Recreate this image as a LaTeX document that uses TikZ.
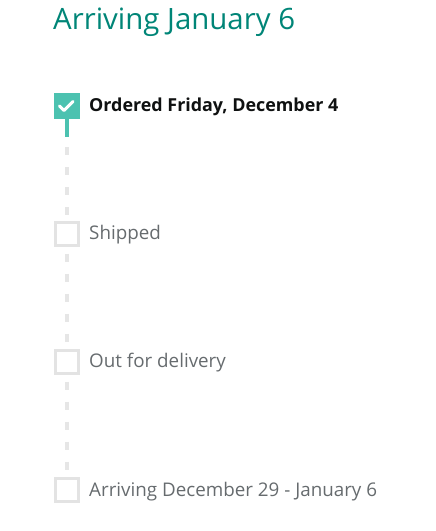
\documentclass[tikz,border=0pt]{standalone}
\usepackage{fontspec}
\setmainfont{Open Sans}
\definecolor{titleteal}{HTML}{008577}
\definecolor{checkteal}{HTML}{4CC2B0}
\definecolor{boxgray}{HTML}{E3E3E3}
\definecolor{dashgray}{HTML}{E6E6E6}
\definecolor{labelgray}{HTML}{666B6E}
\definecolor{labeldark}{HTML}{0F1111}
\tikzset{
  x=1pt, y=-1pt,
  cbox/.style={draw=boxgray, line width=3pt, fill=white, minimum size=23pt, inner sep=0pt, outer sep=0pt},
  donebox/.style={fill=checkteal, minimum size=26pt, inner sep=0pt, outer sep=0pt},
  lbl/.style={anchor=base west, inner sep=0pt, font=\fontsize{18.8pt}{22pt}\selectfont, text=labelgray},
  donelbl/.style={anchor=base west, inner sep=0pt, font=\fontsize{17.9pt}{22pt}\selectfont\bfseries, text=labeldark},
  dashline/.style={draw=dashgray, line width=4pt, dash pattern=on 8pt off 12pt},
  solidline/.style={draw=checkteal, line width=4pt},
}
\begin{document}
\begin{tikzpicture}
\useasboundingbox (0,0) rectangle (436,531);
\node[anchor=base west, inner sep=0pt, text=titleteal, font=\fontsize{29.4pt}{33pt}\selectfont] (title) at (53,29.5) {Arriving January 6};
\node[donebox] (b1) at (67,106) {};
\node[cbox] (b2) at (67,234) {};
\node[cbox] (b3) at (67,362) {};
\node[cbox] (b4) at (67,490) {};
\coordinate (s1) at (67,137);
\draw[solidline] (b1.south) -- (s1);
\draw[dashline, dash phase=10pt] (s1) -- (b2.north);
\draw[dashline, dash phase=12pt] (b2.south) -- (b3.north);
\draw[dashline, dash phase=12pt] (b3.south) -- (b4.north);
\draw[white, line width=3pt, line cap=round, line join=round] (59.5,106) -- (64,110.5) -- (73,101.5);
\node[donelbl] (l1) at (89,111) {Ordered Friday, December 4};
\node[lbl] (l2) at (89,239) {Shipped};
\node[lbl] (l3) at (89,367) {Out for delivery};
\node[lbl] (l4) at (89,496) {Arriving December 29 - January 6};
\end{tikzpicture}
\end{document}
